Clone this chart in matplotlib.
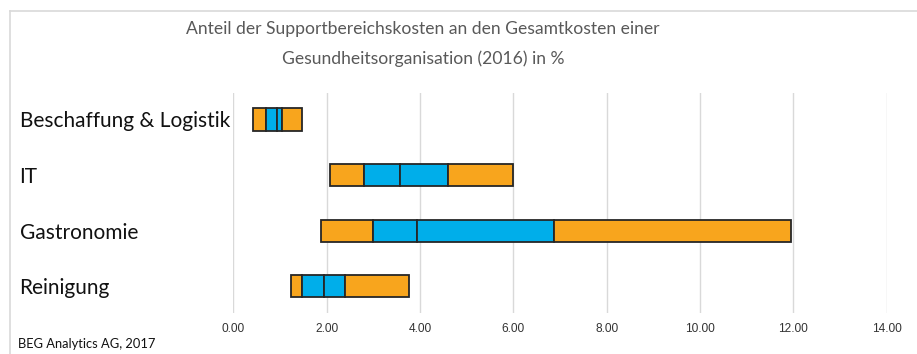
import matplotlib
matplotlib.use("Agg")
import matplotlib.pyplot as plt
import numpy as np
from matplotlib.lines import Line2D

categories = ["Beschaffung & Logistik", "IT", "Gastronomie", "Reinigung"]
v_min = [0.43, 2.08, 1.88, 1.23]
v_q1 = [0.71, 2.81, 3.00, 1.47]
v_med = [0.93, 3.58, 3.94, 1.95]
v_q3 = [1.05, 4.60, 6.87, 2.39]
v_max = [1.47, 6.00, 11.95, 3.77]
xticks = [0, 2, 4, 6, 8, 10, 12, 14]
title_lines = ["Anteil der Supportbereichskosten an den Gesamtkosten einer",
               "Gesundheitsorganisation (2016) in %"]
source = "BEG Analytics AG, 2017"

ORANGE = "#F8A51D"
BLUE = "#00AEEA"
EDGE = "#262626"

plt.rcParams['font.family'] = ['Lato', 'DejaVu Sans']

W, H = 917, 354
fig = plt.figure(figsize=(W / 100, H / 100), dpi=100)

ax_l, ax_r = 233.3, 886.7
ax_t, ax_b = 92.7, 313.0
ax = fig.add_axes([ax_l / W, 1 - ax_b / H, (ax_r - ax_l) / W, (ax_b - ax_t) / H])

y = np.arange(len(categories))
bounds = np.array([v_min, v_q1, v_med, v_q3, v_max])
colors = [ORANGE, BLUE, BLUE, ORANGE]
for i in range(4):
    ax.barh(y, bounds[i + 1] - bounds[i], left=bounds[i], height=0.4,
            color=colors[i], edgecolor=EDGE, linewidth=1.3, zorder=3)

ax.set_xlim(0, 14)
ax.set_ylim(len(categories) - 0.52, -0.48)
ax.set_xticks(xticks, [f"{t:.2f}" for t in xticks])
ax.set_yticks(y, categories)
ax.grid(axis='x', color="#d9d9d9", linewidth=1.0, zorder=0)
for s in ax.spines.values():
    s.set_visible(False)
ax.tick_params(axis='x', length=0, pad=7, labelsize=8.6, labelcolor="#333333")
ax.tick_params(axis='y', length=0, pad=(ax_l - 19.5) * 0.72, labelsize=15.0, labelcolor="#111111")
for lab in ax.get_yticklabels():
    lab.set_horizontalalignment('left')
    lab.set_verticalalignment('center_baseline')
for lab in ax.get_xticklabels():
    lab.set_fontfamily(['Liberation Sans', 'DejaVu Sans'])

for k, (line, yy) in enumerate(zip(title_lines, [29, 59])):
    fig.text(423 / W, 1 - yy / H, line, ha='center', va='center', fontsize=12.6,
             color="#595959")
fig.text(18 / W, 1 - 344 / H, source, ha='left', va='center', fontsize=9.3, color="#111111")

fig.add_artist(Line2D([10 / W, 10 / W], [0, 1 - 11 / H], color="#d9d9d9", linewidth=1.2,
                      transform=fig.transFigure))
fig.add_artist(Line2D([10 / W, 1], [1 - 11 / H, 1 - 11 / H], color="#d9d9d9", linewidth=1.2,
                      transform=fig.transFigure))

fig.savefig("out.png", dpi=100)
